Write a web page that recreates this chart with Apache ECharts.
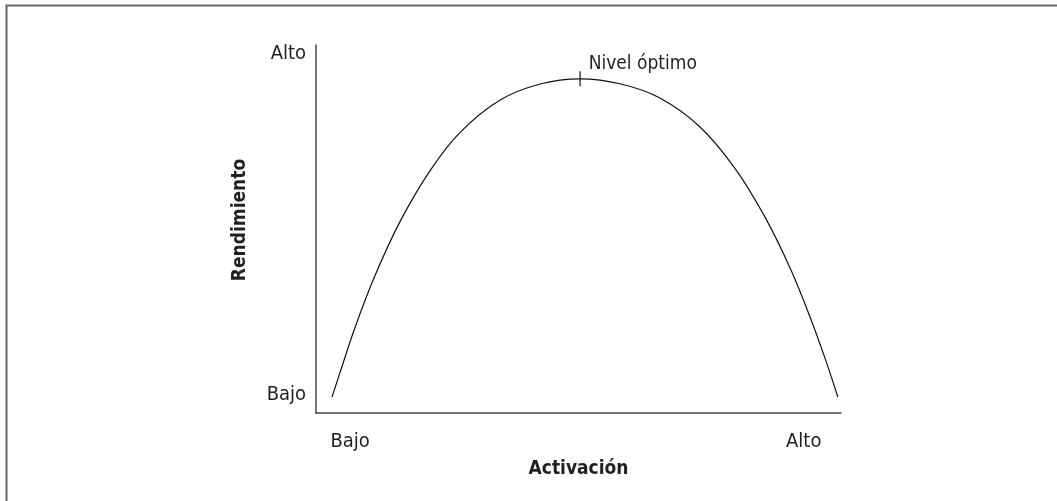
<!DOCTYPE html>
<html><head><meta charset="utf-8">
<script src="https://cdn.jsdelivr.net/npm/echarts@6/dist/echarts.min.js"></script>
<style>html,body{margin:0;padding:0;background:#fff}#c{width:1057px;height:501px}</style>
</head><body><div id="c"></div>
<script>
// Curve points: [activación, rendimiento] on a 0–100 scale
const curveX = [3.05, 4.6, 7.4, 11.2, 16.0, 21.7, 27.4, 35.0, 42.7, 50.3, 58.1, 65.5, 73.1, 79.8, 85.5, 90.3, 94.1, 97.0, 99.4];
const curveY = [4.35, 11.1, 23.1, 37.2, 52.0, 65.8, 76.2, 85.0, 89.4, 90.8, 89.4, 85.6, 77.8, 66.5, 53.3, 39.4, 26.1, 14.7, 4.35];
const peak = [50.3, 90.8];
const peakLabel = 'Nivel óptimo';
const xTickValues = [6.5, 92.9];
const xTickLabels = ['Bajo', 'Alto'];
const yTickValues = [4.9, 97.7];
const yTickLabels = ['Bajo', 'Alto'];
const xName = 'Activación';
const yName = 'Rendimiento';

const FONT = '"Liberation Sans Narrow", "DejaVu Sans Condensed", "Roboto", sans-serif';
const chart = echarts.init(document.getElementById('c'), null, {renderer: 'canvas'});
chart.setOption({
  animation: false,
  backgroundColor: '#fff',
  grid: {left: 316, right: 216, top: 45, bottom: 88},
  graphic: [{
    type: 'polyline', silent: true,
    shape: {points: [[6.5, 520], [6.5, 5.5], [1070, 5.5]]},
    style: {stroke: '#666', lineWidth: 2, fill: null}
  }],
  xAxis: {
    type: 'value', min: 0, max: 100,
    name: xName, nameLocation: 'middle', nameGap: 47,
    nameTextStyle: {fontFamily: FONT, fontWeight: 'bold', fontSize: 19, color: '#231f20'},
    axisLine: {show: true, lineStyle: {color: '#444', width: 1.5}},
    axisTick: {show: false}, splitLine: {show: false},
    axisLabel: {
      customValues: xTickValues, margin: 19,
      fontFamily: FONT, fontSize: 20, color: '#231f20',
      formatter: v => xTickLabels[xTickValues.indexOf(v)] || ''
    }
  },
  yAxis: {
    type: 'value', min: 0, max: 100,
    name: yName, nameLocation: 'middle', nameGap: 66, nameRotate: 90,
    nameTextStyle: {fontFamily: FONT, fontWeight: 'bold', fontSize: 19, color: '#231f20', padding: [0, 0, 0, 18]},
    axisLine: {show: true, lineStyle: {color: '#444', width: 1.5}},
    axisTick: {show: false}, splitLine: {show: false},
    axisLabel: {
      customValues: yTickValues, margin: 10,
      fontFamily: FONT, fontSize: 20, color: '#231f20',
      formatter: v => yTickLabels[yTickValues.indexOf(v)] || ''
    }
  },
  series: [{
    type: 'line', smooth: 0.35, symbol: 'none',
    lineStyle: {color: '#111', width: 1.2},
    data: curveX.map((x, i) => [x, curveY[i]])
  }, {
    type: 'scatter', symbol: 'rect', symbolSize: [1.2, 15],
    itemStyle: {color: '#111', opacity: 1},
    label: {show: true, position: 'right', offset: [3, -15], formatter: peakLabel,
      fontFamily: FONT, fontSize: 19, color: '#231f20', opacity: 1},
    emphasis: {disabled: true},
    data: [peak]
  }]
});
</script></body></html>
